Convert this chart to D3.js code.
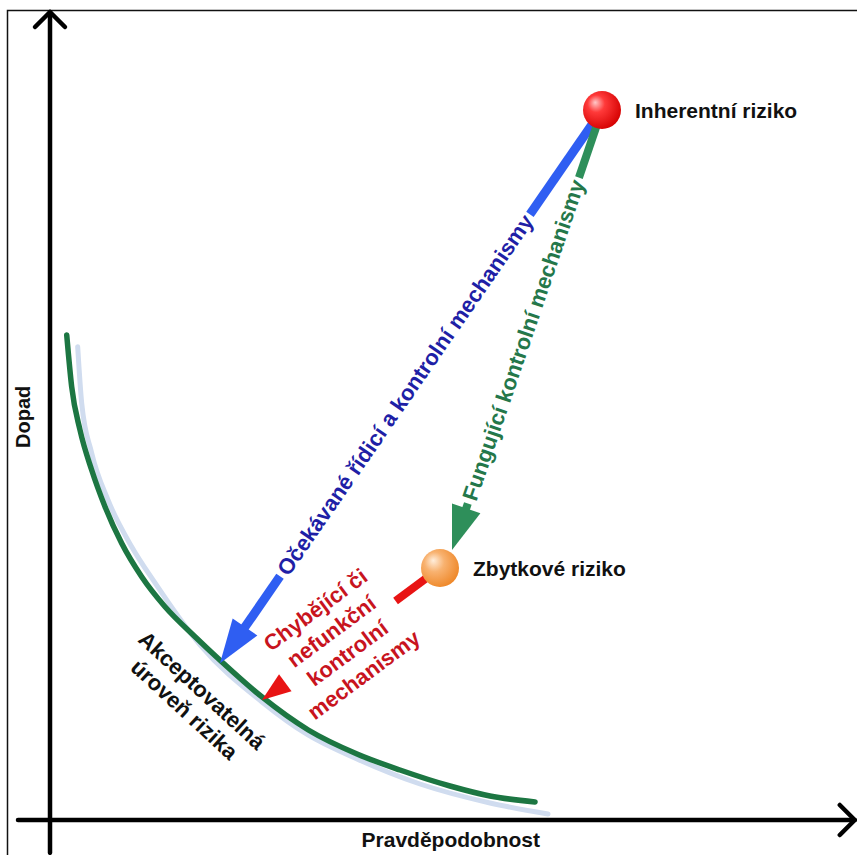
<!DOCTYPE html>
<html>
<head>
<meta charset="utf-8">
<script src="https://cdn.jsdelivr.net/npm/d3@7"></script>
<style>
  body { margin: 0; background: #fff; }
  svg { display: block; }
  text { font-family: "Liberation Sans", Arial, sans-serif; font-weight: bold; }
</style>
</head>
<body>
<svg id="chart"></svg>
<script>
// Risk diagram: probability (x) vs impact (y), both on a 0-100 scale

// acceptable risk level curve
const curvePoints = [[2.09, 60.63], [2.71, 54.16], [3.75, 48.75], [5.21, 43.75], [6.88, 39.16],
    [8.96, 34.59], [11.46, 30.41], [14.38, 26.66], [18.13, 22.91], [21.46, 19.79], [26.46, 15.41],
    [32.29, 11.25], [38.38, 8.25], [43.75, 6.25], [50, 4.25], [55, 3], [60.63, 2.25]];
// pale shadow drawn under the curve
const shadowPoints = [[3.46, 59.16], [3.96, 52.13], [5.21, 45.88], [7.25, 40], [10.21, 34.16],
    [13.13, 29.63], [18.75, 21.88], [26.5, 14.75], [32.25, 10.63], [38.38, 7.63], [46.25, 4.5],
    [55, 2.13], [62.25, 0.75]];

// risk points
const riskNames = ['Inherentní riziko', 'Zbytkové riziko'];
const riskProb = [69, 48.75];
const riskImpact = [88.75, 31.5];

// arrows from a risk point to a target
const arrowLabels = [
    ['Očekávané řídicí a kontrolní mechanismy'],
    ['Fungující kontrolní mechanismy'],
    ['Chybějící či', 'nefunkční', 'kontrolní', 'mechanismy']
];
const arrowFrom = [0, 0, 1];
const arrowTo = [[21.25, 19.6], [50.25, 33.75], [26.5, 15]];

const curveLabel = ['Akceptovatelná', 'úroveň rizika'];
const axisTitles = ['Pravděpodobnost', 'Dopad'];

const W = 857, H = 855;

const svg = d3.select('#chart')
    .attr('width', W)
    .attr('height', H);

// scales (data units -> pixels)
const x = d3.scaleLinear().domain([0, 100]).range([50, 850]);
const y = d3.scaleLinear().domain([0, 100]).range([820, 20]);

// gradients for the balls
const defs = svg.append('defs');
const grads = [
    {id: 'gRed', stops: [['0%', '#ffc8c8'], ['35%', '#ff3a3a'], ['100%', '#d40000']]},
    {id: 'gOrange', stops: [['0%', '#ffeedc'], ['40%', '#f8b270'], ['100%', '#ee8626']]}
];
grads.forEach(g => {
    const rg = defs.append('radialGradient').attr('id', g.id)
        .attr('cx', '40%').attr('cy', '40%').attr('r', '65%')
        .attr('fx', '32%').attr('fy', '30%');
    g.stops.forEach(s => rg.append('stop').attr('offset', s[0]).attr('stop-color', s[1]));
});

// frame
svg.append('rect')
    .attr('x', 7.5).attr('y', 10.5)
    .attr('width', W).attr('height', H)
    .attr('fill', 'none')
    .attr('stroke', '#111')
    .attr('stroke-width', 1.5);

// axes
const axes = svg.append('g').attr('stroke', '#000').attr('stroke-width', 4.5)
    .attr('fill', 'none').attr('stroke-linecap', 'round').attr('stroke-linejoin', 'round');
axes.append('line')
    .attr('x1', x(0)).attr('x2', x(0))
    .attr('y1', y(-4.1)).attr('y2', y(101));
axes.append('path')
    .attr('d', `M${x(0) - 15},${y(101) + 15}L${x(0)},${y(101)}L${x(0) + 15},${y(101) + 15}`);
axes.append('line')
    .attr('x1', x(-4)).attr('x2', x(100.6))
    .attr('y1', y(0)).attr('y2', y(0));
axes.append('path')
    .attr('d', `M${x(100.6) - 15},${y(0) - 15}L${x(100.6)},${y(0)}L${x(100.6) - 15},${y(0) + 15}`);

svg.append('text')
    .attr('x', x(50.1)).attr('y', 847)
    .attr('text-anchor', 'middle')
    .attr('font-size', 21)
    .attr('fill', '#111')
    .text(axisTitles[0]);

svg.append('text')
    .attr('transform', `translate(23,${y(50.4)}) rotate(-90)`)
    .attr('text-anchor', 'middle')
    .attr('dominant-baseline', 'central')
    .attr('font-size', 20)
    .attr('fill', '#111')
    .text(axisTitles[1]);

// curve
const line = d3.line()
    .x(d => x(d[0]))
    .y(d => y(d[1]))
    .curve(d3.curveMonotoneX);

svg.append('path')
    .attr('d', line(shadowPoints))
    .attr('fill', 'none')
    .attr('stroke', '#d0dcef')
    .attr('stroke-width', 5)
    .attr('stroke-linecap', 'round');

svg.append('path')
    .attr('d', line(curvePoints))
    .attr('fill', 'none')
    .attr('stroke', '#1c7642')
    .attr('stroke-width', 5.5)
    .attr('stroke-linecap', 'round');

// curve label
const clx = x(17.9), cly = y(15);
const cl = svg.append('text')
    .attr('transform', `translate(${clx},${cly}) rotate(42.6)`)
    .attr('text-anchor', 'middle')
    .attr('font-size', 22)
    .attr('fill', '#111');
curveLabel.forEach((t, i) => {
    cl.append('tspan')
        .attr('x', 0)
        .attr('y', (i - (curveLabel.length - 1) / 2) * 26)
        .attr('dominant-baseline', 'central')
        .text(t);
});

// arrows
const arrowStyle = [
    {line: '#2f5ef2', text: '#1f1fa6', width: 9, headLen: 44, headW: 30, labelAt: 0.515, lh: 26},
    {line: '#2e8f5a', text: '#24774a', width: 8, headLen: 44, headW: 30, labelAt: 0.523, lh: 26},
    {line: '#e81414', text: '#c8141e', width: 8, headLen: 29, headW: 21, labelAt: 0.564, lh: 27}
];

arrowLabels.forEach((lbl, i) => {
    const st = arrowStyle[i];
    const ax = x(riskProb[arrowFrom[i]]), ay = y(riskImpact[arrowFrom[i]]);
    const bx = x(arrowTo[i][0]), by = y(arrowTo[i][1]);
    const dx = bx - ax, dy = by - ay;
    const len = Math.hypot(dx, dy);
    const ux = dx / len, uy = dy / len;
    let ang = Math.atan2(dy, dx) * 180 / Math.PI;
    if (dx < 0) ang += 180;

    const g = svg.append('g');
    const lc = st.labelAt * len;

    // label
    const txt = g.append('text')
        .attr('transform', `translate(${ax + ux * lc},${ay + uy * lc}) rotate(${ang})`)
        .attr('text-anchor', 'middle')
        .attr('font-size', 22)
        .attr('fill', st.text);
    lbl.forEach((t, k) => {
        txt.append('tspan')
            .attr('x', 0)
            .attr('y', (k - (lbl.length - 1) / 2) * st.lh)
            .attr('dominant-baseline', 'central')
            .text(t);
    });
    let tw = 0;
    txt.selectAll('tspan').each(function() { tw = Math.max(tw, this.getComputedTextLength()); });

    const gap0 = lc - tw / 2 - 4, gap1 = lc + tw / 2 + 4;
    const baseD = len - st.headLen;
    const segs = [[0, Math.max(0, gap0)], [gap1, baseD]].filter(s => s[1] > s[0]);
    segs.forEach(s => {
        g.append('line')
            .attr('x1', ax + ux * s[0]).attr('y1', ay + uy * s[0])
            .attr('x2', ax + ux * (s[1] + 1)).attr('y2', ay + uy * (s[1] + 1))
            .attr('stroke', st.line)
            .attr('stroke-width', st.width);
    });

    // arrow head
    const hx = bx - ux * st.headLen, hy = by - uy * st.headLen;
    const px = -uy * st.headW / 2, py = ux * st.headW / 2;
    g.append('polygon')
        .attr('points', `${bx},${by} ${hx + px},${hy + py} ${hx - px},${hy - py}`)
        .attr('fill', st.line);
});

// risk balls and labels
const ballFill = ['url(#gRed)', 'url(#gOrange)'];
const labelDx = [33, 33];
riskNames.forEach((n, i) => {
    svg.append('circle')
        .attr('cx', x(riskProb[i]))
        .attr('cy', y(riskImpact[i]))
        .attr('r', 19)
        .attr('fill', ballFill[i]);
    svg.append('text')
        .attr('x', x(riskProb[i]) + labelDx[i])
        .attr('y', y(riskImpact[i]))
        .attr('dominant-baseline', 'central')
        .attr('font-size', 21)
        .attr('fill', '#111')
        .text(n);
});
</script>
</body>
</html>
